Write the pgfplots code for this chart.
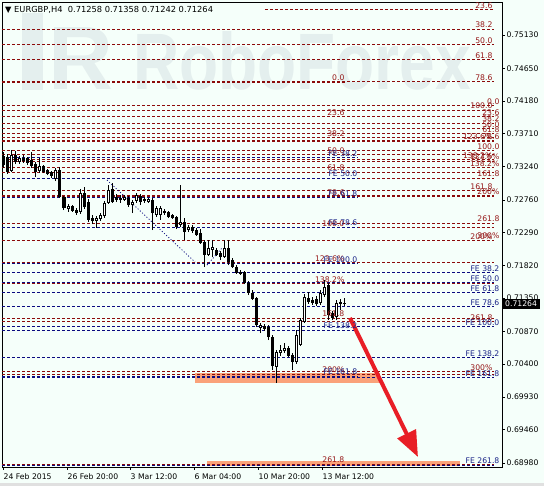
\documentclass[border=0pt]{standalone}
\usepackage{fontspec}
\setmainfont{DejaVu Sans}
\newfontfamily\wmfont{Liberation Sans}
\usepackage{pgfplots}
\pgfplotsset{compat=1.18}
\usepackage{pgfplotstable}
\usetikzlibrary{arrows.meta}
\definecolor{bgc}{RGB}{245,255,250}
\definecolor{mar}{RGB}{140,10,10}
\definecolor{marT}{RGB}{150,25,25}
\definecolor{nav}{RGB}{10,10,128}
\definecolor{navT}{RGB}{25,35,135}
\definecolor{sal}{RGB}{250,162,122}
\definecolor{arr}{RGB}{232,30,38}
\definecolor{wm}{RGB}{228,239,238}

\pgfplotstableread{
n o h l c
3 0.73176 0.73478 0.73161 0.73406
5 0.73305 0.73391 0.73276 0.73363
10 0.73176 0.73363 0.73147 0.73248
14 0.73061 0.73219 0.73032 0.73190
17 0.72630 0.72702 0.72587 0.72673
20 0.72587 0.72917 0.72558 0.72860
24 0.72457 0.72529 0.72357 0.72500
25 0.72486 0.72572 0.72457 0.72544
26 0.72529 0.72745 0.72500 0.72716
27 0.72716 0.72975 0.72702 0.72903
31 0.72759 0.72831 0.72745 0.72802
33 0.72687 0.72759 0.72572 0.72730
34 0.72745 0.72860 0.72716 0.72831
37 0.72730 0.72788 0.72716 0.72774
39 0.72544 0.72673 0.72515 0.72644
40 0.72544 0.72673 0.72472 0.72644
45 0.72400 0.72975 0.72371 0.72443
47 0.72328 0.72400 0.72299 0.72371
52 0.71969 0.72184 0.71954 0.72069
53 0.72041 0.72184 0.71940 0.72084
56 0.71940 0.72184 0.71926 0.72069
65 0.70920 0.70992 0.70848 0.70963
69 0.70360 0.70604 0.70130 0.70575
70 0.70561 0.70676 0.70518 0.70604
71 0.70589 0.70704 0.70561 0.70633
74 0.70431 0.70891 0.70403 0.70819
75 0.70676 0.71064 0.70661 0.71035
76 0.71006 0.71408 0.70992 0.71365
80 0.71279 0.71466 0.71250 0.71423
81 0.71394 0.71610 0.71365 0.71509
84 0.71078 0.71322 0.71035 0.71279
}\bull

\pgfplotstableread{
n o h l c
1 0.73391 0.73449 0.73219 0.73262
2 0.73377 0.73420 0.73133 0.73161
4 0.73406 0.73463 0.73276 0.73305
6 0.73363 0.73406 0.73291 0.73320
7 0.73363 0.73377 0.73262 0.73291
8 0.73334 0.73449 0.73219 0.73248
9 0.73276 0.73305 0.73090 0.73161
11 0.73248 0.73262 0.73147 0.73161
12 0.73190 0.73205 0.73118 0.73133
13 0.73161 0.73176 0.73075 0.73104
15 0.73190 0.73233 0.72788 0.72802
16 0.72802 0.72817 0.72615 0.72644
18 0.72673 0.72687 0.72587 0.72601
19 0.72615 0.72644 0.72544 0.72572
21 0.72860 0.72946 0.72630 0.72659
22 0.72730 0.72774 0.72443 0.72472
23 0.72500 0.72544 0.72414 0.72457
28 0.72917 0.73003 0.72716 0.72730
29 0.72802 0.72845 0.72730 0.72759
30 0.72788 0.72831 0.72716 0.72759
32 0.72788 0.72817 0.72659 0.72687
35 0.72817 0.72845 0.72687 0.72730
36 0.72774 0.72802 0.72716 0.72745
38 0.72759 0.72788 0.72328 0.72572
41 0.72601 0.72630 0.72544 0.72572
42 0.72587 0.72601 0.72500 0.72515
43 0.72544 0.72558 0.72486 0.72500
44 0.72515 0.72529 0.72342 0.72371
46 0.72443 0.72500 0.72184 0.72299
48 0.72371 0.72400 0.72285 0.72314
49 0.72328 0.72357 0.72242 0.72256
50 0.72285 0.72342 0.72127 0.72141
51 0.72156 0.72184 0.71796 0.71969
54 0.72041 0.72069 0.71954 0.71969
55 0.71998 0.72026 0.71897 0.71940
57 0.72069 0.72184 0.71825 0.71868
58 0.71897 0.71926 0.71782 0.71796
59 0.71796 0.71825 0.71696 0.71710
60 0.71725 0.71753 0.71681 0.71696
61 0.71725 0.71739 0.71552 0.71567
62 0.71567 0.71595 0.71394 0.71423
63 0.71423 0.71466 0.71322 0.71337
64 0.71351 0.71365 0.70934 0.70963
66 0.70949 0.70977 0.70877 0.70906
67 0.70934 0.70963 0.70747 0.70791
68 0.70791 0.70819 0.70316 0.70374
72 0.70633 0.70661 0.70503 0.70518
73 0.70532 0.70561 0.70316 0.70431
77 0.71351 0.71437 0.71265 0.71293
78 0.71322 0.71365 0.71250 0.71279
79 0.71337 0.71380 0.71236 0.71265
82 0.71538 0.71567 0.71035 0.71107
83 0.71135 0.71164 0.71035 0.71064
85 0.71293 0.71337 0.71178 0.71265
86 0.71258 0.71358 0.71242 0.71264
}\bear

\pgfplotstableread{
p x1 x2
0.75489 66.25 123.5
0.75215 0.5 123.5
0.74993 0.5 123.5
0.74771 0.5 123.5
0.74455 0.5 123.5
0.74052 0.5 123.5
0.73608 0.5 123.5
0.73334 0.5 123.5
0.72890 0.5 123.5
0.72171 0.5 123.5
0.71009 0.5 123.5
0.70291 0.5 123.5
0.74110 0.5 123.5
0.73958 0.5 123.5
0.73864 0.5 123.5
0.73789 0.5 123.5
0.73713 0.5 123.5
0.73605 0.5 123.5
0.73468 0.5 123.5
0.73316 0.5 123.5
0.73222 0.5 123.5
0.73071 0.5 123.5
0.72825 0.5 123.5
0.72428 0.5 123.5
0.72183 0.5 123.5
0.73959 0.5 123.5
0.73653 0.5 123.5
0.73406 0.5 123.5
0.73158 0.5 123.5
0.72806 0.5 123.5
0.72357 0.5 123.5
0.71862 0.5 123.5
0.71555 0.5 123.5
0.71060 0.5 123.5
0.70259 0.5 123.5
0.68962 0.5 123.5
}\marlines

\pgfplotstableread{
p x1 x2
0.71717 0.5 123.5
0.71567 0.5 123.5
0.71423 0.5 123.5
0.71229 0.5 123.5
0.70941 0.5 123.5
0.70489 0.5 123.5
0.70202 0.5 123.5
0.68951 0.5 123.5
0.73363 0.5 89.5
0.73075 0.5 89.5
0.72788 0.5 89.5
0.72371 0.5 89.5
0.71840 0.5 89.5
0.70891 0.5 89.5
0.70230 0.5 89.5
}\navlines

\pgfplotstableread{
p lab
0.75489 23.6
0.75215 38.2
0.74993 50.0
0.74771 61.8
0.74455 78.6
0.74052 100.0
0.73608 {123.6\%}
0.73334 {138.2\%}
0.72890 161.8
0.72171 {200\%}
0.71009 261.8
0.70291 {300\%}
}\labA

\pgfplotstableread{
p lab
0.74110 0.0
0.73958 23.6
0.73864 38.2
0.73789 50.0
0.73713 61.8
0.73605 78.6
0.73468 100.0
0.73316 {123.6\%}
0.73222 {138.2\%}
0.73071 161.8
0.72825 {200\%}
0.72428 261.8
0.72183 {300\%}
}\labB

\pgfplotstableread{
p lab
0.74455 0.0
0.73959 23.6
0.73653 38.2
0.73406 50.0
0.73158 61.8
0.72806 78.6
0.72357 100.0
0.71862 {123.6\%}
0.71555 {138.2\%}
0.71060 161.8
0.70259 {200\%}
0.68962 261.8
}\labC

\pgfplotstableread{
p lab
0.71717 {FE 38.2}
0.71567 {FE 50.0}
0.71423 {FE 61.8}
0.71229 {FE 78.6}
0.70941 {FE 100.0}
0.70489 {FE 138.2}
0.70202 {FE 161.8}
0.68951 {FE 261.8}
}\labD

\pgfplotstableread{
p lab
0.73363 {FE 38.2}
0.73075 {FE 50.0}
0.72788 {FE 61.8}
0.72371 {FE 78.6}
0.71840 {FE 100.0}
0.70891 {FE 138.2}
0.70230 {FE 161.8}
}\labE

\newcommand{\lblfont}{\fontsize{7.7}{8}\selectfont}

\begin{document}
\begin{tikzpicture}[x=1pt,y=1pt]
\useasboundingbox (0,0) rectangle (544,486);
\fill[bgc] (0,0) rectangle (544,486);
\fill[black!12] (0,0) rectangle (544,3);
\begin{axis}[
  at={(2pt,19pt)}, anchor=south west,
  scale only axis, width=500pt, height=465pt,
  xmin=0.5, xmax=125.5, ymin=0.68923, ymax=0.75604,
  axis line style={black, line width=0.8pt},
  tick align=outside, major tick length=3pt,
  tick style={black, line width=0.8pt},
  xtick pos=left, ytick pos=right, yticklabel pos=right,
  xtick={0.75,16.75,32.5,48.5,64.5,80.5},
  xticklabels={24 Feb 2015,26 Feb 20:00,3 Mar 12:00,6 Mar 04:00,10 Mar 20:00,13 Mar 12:00},
  xticklabel style={anchor=north west, inner xsep=0.5pt, font=\lblfont},
  ytick={0.68980,0.69460,0.69930,0.70400,0.70870,0.71350,0.71820,0.72290,0.72760,0.73240,0.73710,0.74180,0.74650,0.75130},
  yticklabels={0.68980,0.69460,0.69930,0.70400,0.70870,0.71350,0.71820,0.72290,0.72760,0.73240,0.73710,0.74180,0.74650,0.75130},
  yticklabel style={anchor=west, inner xsep=1.5pt, font=\lblfont},
  clip=true,
]
% watermark
\node[anchor=base west, text=wm, inner sep=0pt, xscale=0.8, font=\wmfont\bfseries\fontsize{80}{80}\selectfont] at (axis cs:33.25,0.74340) {RoboForex};
\node[anchor=base west, text=wm, inner sep=0pt, font=\wmfont\bfseries\fontsize{90}{90}\selectfont] at (axis cs:12,0.74340) {R};
\addplot[fill=wm, draw=none, forget plot] coordinates {(5.5,0.75446) (10.75,0.75446) (10.75,0.74340) (5.5,0.74340)} -- cycle;

% zones
\addplot[fill=sal, draw=none, forget plot] coordinates {(48.75,0.70273) (95,0.70273) (95,0.70130) (48.75,0.70130)} -- cycle;
\addplot[fill=sal, draw=none, forget plot] coordinates {(51.75,0.69009) (115,0.69009) (115,0.68937) (51.75,0.68937)} -- cycle;

% maroon levels
\addplot[forget plot, draw=none, mark=none, error bars/.cd, x dir=plus, x explicit, error mark=none,
  error bar style={draw=mar, line width=1pt, dash pattern=on 3pt off 2pt}]
  table[x=x1, y=p, x error expr=\thisrow{x2}-\thisrow{x1}] {\marlines};
\addplot[forget plot, mar, line width=2pt, dash pattern=on 3pt off 2pt] coordinates {(0.5,0.74455) (86.25,0.74455)};
% navy levels
\addplot[forget plot, draw=none, mark=none, error bars/.cd, x dir=plus, x explicit, error mark=none,
  error bar style={draw=nav, line width=1pt, dash pattern=on 3pt off 2pt}]
  table[x=x1, y=p, x error expr=\thisrow{x2}-\thisrow{x1}] {\navlines};
\addplot[forget plot, nav, line width=0.8pt, dash pattern=on 1pt off 2pt] coordinates {(26.75,0.73046) (48.75,0.71868)};
\addplot[forget plot, nav, line width=0.8pt, dash pattern=on 1pt off 2pt] coordinates {(51.75,0.71825) (55.5,0.72069)};

% candles: wicks
\addplot[forget plot, draw=none, mark=none, error bars/.cd, y dir=plus, y explicit, error mark=none,
  error bar style={draw=black, solid, line width=1pt}]
  table[x=n, y=l, y error expr=\thisrow{h}-\thisrow{l}] {\bull};
\addplot[forget plot, draw=none, mark=none, error bars/.cd, y dir=plus, y explicit, error mark=none,
  error bar style={draw=black, solid, line width=1pt}]
  table[x=n, y=l, y error expr=\thisrow{h}-\thisrow{l}] {\bear};
% bear bodies
\addplot[forget plot, draw=none, mark=none, error bars/.cd, y dir=plus, y explicit, error mark=none,
  error bar style={draw=black, solid, line width=3pt}]
  table[x=n, y=c, y error expr={max(\thisrow{o}-\thisrow{c},0.00012)}] {\bear};
% bull bodies
\addplot[forget plot, draw=none, mark=none, error bars/.cd, y dir=plus, y explicit, error mark=none,
  error bar style={draw=black, solid, line width=3pt}]
  table[x=n, y=o, y error expr=\thisrow{c}-\thisrow{o}] {\bull};
\addplot[forget plot, draw=none, mark=none, error bars/.cd, y dir=plus, y explicit, error mark=none,
  error bar style={draw=white, solid, line width=1pt}]
  table[x=n, y expr=\thisrow{o}+0.00013, y error expr=\thisrow{c}-\thisrow{o}-0.00026] {\bull};

% level labels
\addplot[forget plot, draw=none, mark=none, nodes near coords, point meta=explicit symbolic,
  every node near coord/.style={anchor=south east, inner sep=0.4pt, yshift=0.6pt, font=\lblfont, text=marT}]
  table[x expr=123.25, y=p, meta=lab] {\labA};
\addplot[forget plot, draw=none, mark=none, nodes near coords, point meta=explicit symbolic,
  every node near coord/.style={anchor=south east, inner sep=0.4pt, yshift=0.6pt, font=\lblfont, text=marT}]
  table[x expr=125, y=p, meta=lab] {\labB};
\addplot[forget plot, draw=none, mark=none, nodes near coords, point meta=explicit symbolic,
  every node near coord/.style={anchor=south east, inner sep=0.4pt, yshift=0.6pt, font=\lblfont, text=marT}]
  table[x expr=86.25, y=p, meta=lab] {\labC};
\addplot[forget plot, draw=none, mark=none, nodes near coords, point meta=explicit symbolic,
  every node near coord/.style={anchor=south east, inner sep=0.4pt, yshift=0.6pt, font=\lblfont, text=navT}]
  table[x expr=125, y=p, meta=lab] {\labD};
\addplot[forget plot, draw=none, mark=none, nodes near coords, point meta=explicit symbolic,
  every node near coord/.style={anchor=south east, inner sep=0.4pt, yshift=0.6pt, font=\lblfont, text=navT}]
  table[x expr=89.5, y=p, meta=lab] {\labE};

% forecast arrow
\addplot[forget plot, arr, line width=4pt, -{Triangle[length=26pt,width=20pt]}] coordinates {(87.5,0.71064) (104.5,0.69066)};

\coordinate (cp) at (axis cs:125.5,0.71264);
\end{axis}
\node[fill=black, text=white, anchor=west, inner xsep=3pt, inner ysep=1.8pt, font=\lblfont] at (cp) {0.71264};
\node[anchor=west, inner sep=0pt, font=\fontsize{8.3}{9}\selectfont] at (5,476) {▼ EURGBP,H4\ \ 0.71258 0.71358 0.71242 0.71264};
\end{tikzpicture}
\end{document}
